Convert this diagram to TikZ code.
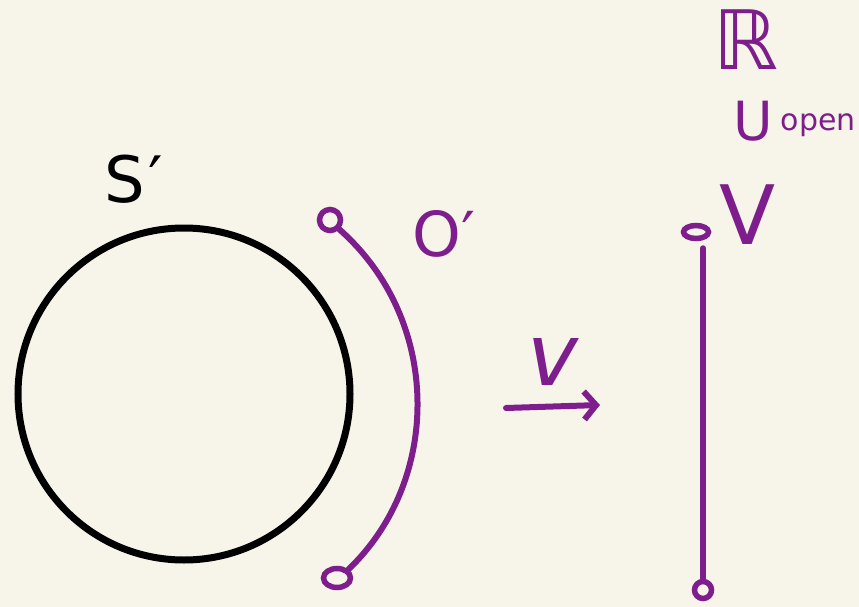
\documentclass[tikz,border=0pt]{standalone}
\usepackage{fontspec}
\setmainfont{DejaVu Sans}
\usetikzlibrary{arrows.meta,shapes.geometric}
\definecolor{paper}{HTML}{F7F5EA}
\definecolor{ink}{HTML}{7E1E8C}
\tikzset{
  pen/.style={draw=ink, line width=6pt, line cap=round, line join=round},
  dot/.style={circle, draw=ink, line width=5.5pt, inner sep=0pt},
  lbl/.style={text=ink, inner sep=0pt},
}
\begin{document}
\begin{tikzpicture}[x=1pt,y=-1pt]
\fill[paper] (0,0) rectangle (859,607);
\useasboundingbox (0,0) rectangle (859,607);
% circle S'
\node[circle, draw=black, line width=7pt, minimum size=332pt, inner sep=0pt] (S) at (184,394) {};
\node[inner sep=0pt, anchor=base west] (Slbl) at (104,202) {\fontsize{64}{64}\selectfont S\kern4pt′};
% arc O'
\node[dot, minimum size=21pt] (otop) at (330,220) {};
\node[dot, ellipse, minimum width=27pt, minimum height=19pt] (obot) at (337,578) {};
\draw[pen] (otop.south east) .. controls (442,320) and (442,480) .. (obot.north east);
\node[lbl] (Olbl) at (444,234) {\fontsize{62}{62}\selectfont O′};
% arrow v
\node[lbl] (vlbl) at (553,362) {\fontsize{86}{86}\selectfont\itshape v};
\coordinate (a0) at (506,408);
\coordinate (a1) at (600,405);
\draw[pen, -{Straight Barb[length=12pt,width=28pt,line width=6pt]}] (a0) -- (a1);
% right: interval V in R
\node[lbl] (Rlbl) at (746,40) {\fontsize{82}{82}\selectfont ℝ};
\node[lbl, anchor=base west] (Ulbl) at (733,141) {\fontsize{54}{54}\selectfont U\kern8pt\raisebox{10pt}{\fontsize{30}{30}\selectfont open}};
\node[lbl] (Vlbl) at (748,215) {\fontsize{82}{82}\selectfont V};
\node[dot, ellipse, minimum width=25pt, minimum height=13pt] (vtop) at (696,232) {};
\node[dot, minimum size=17pt] (vbot) at (703,590) {};
\draw[pen] (vtop.south -| vbot.north) ++(0,7) -- (vbot.north);
\end{tikzpicture}
\end{document}
